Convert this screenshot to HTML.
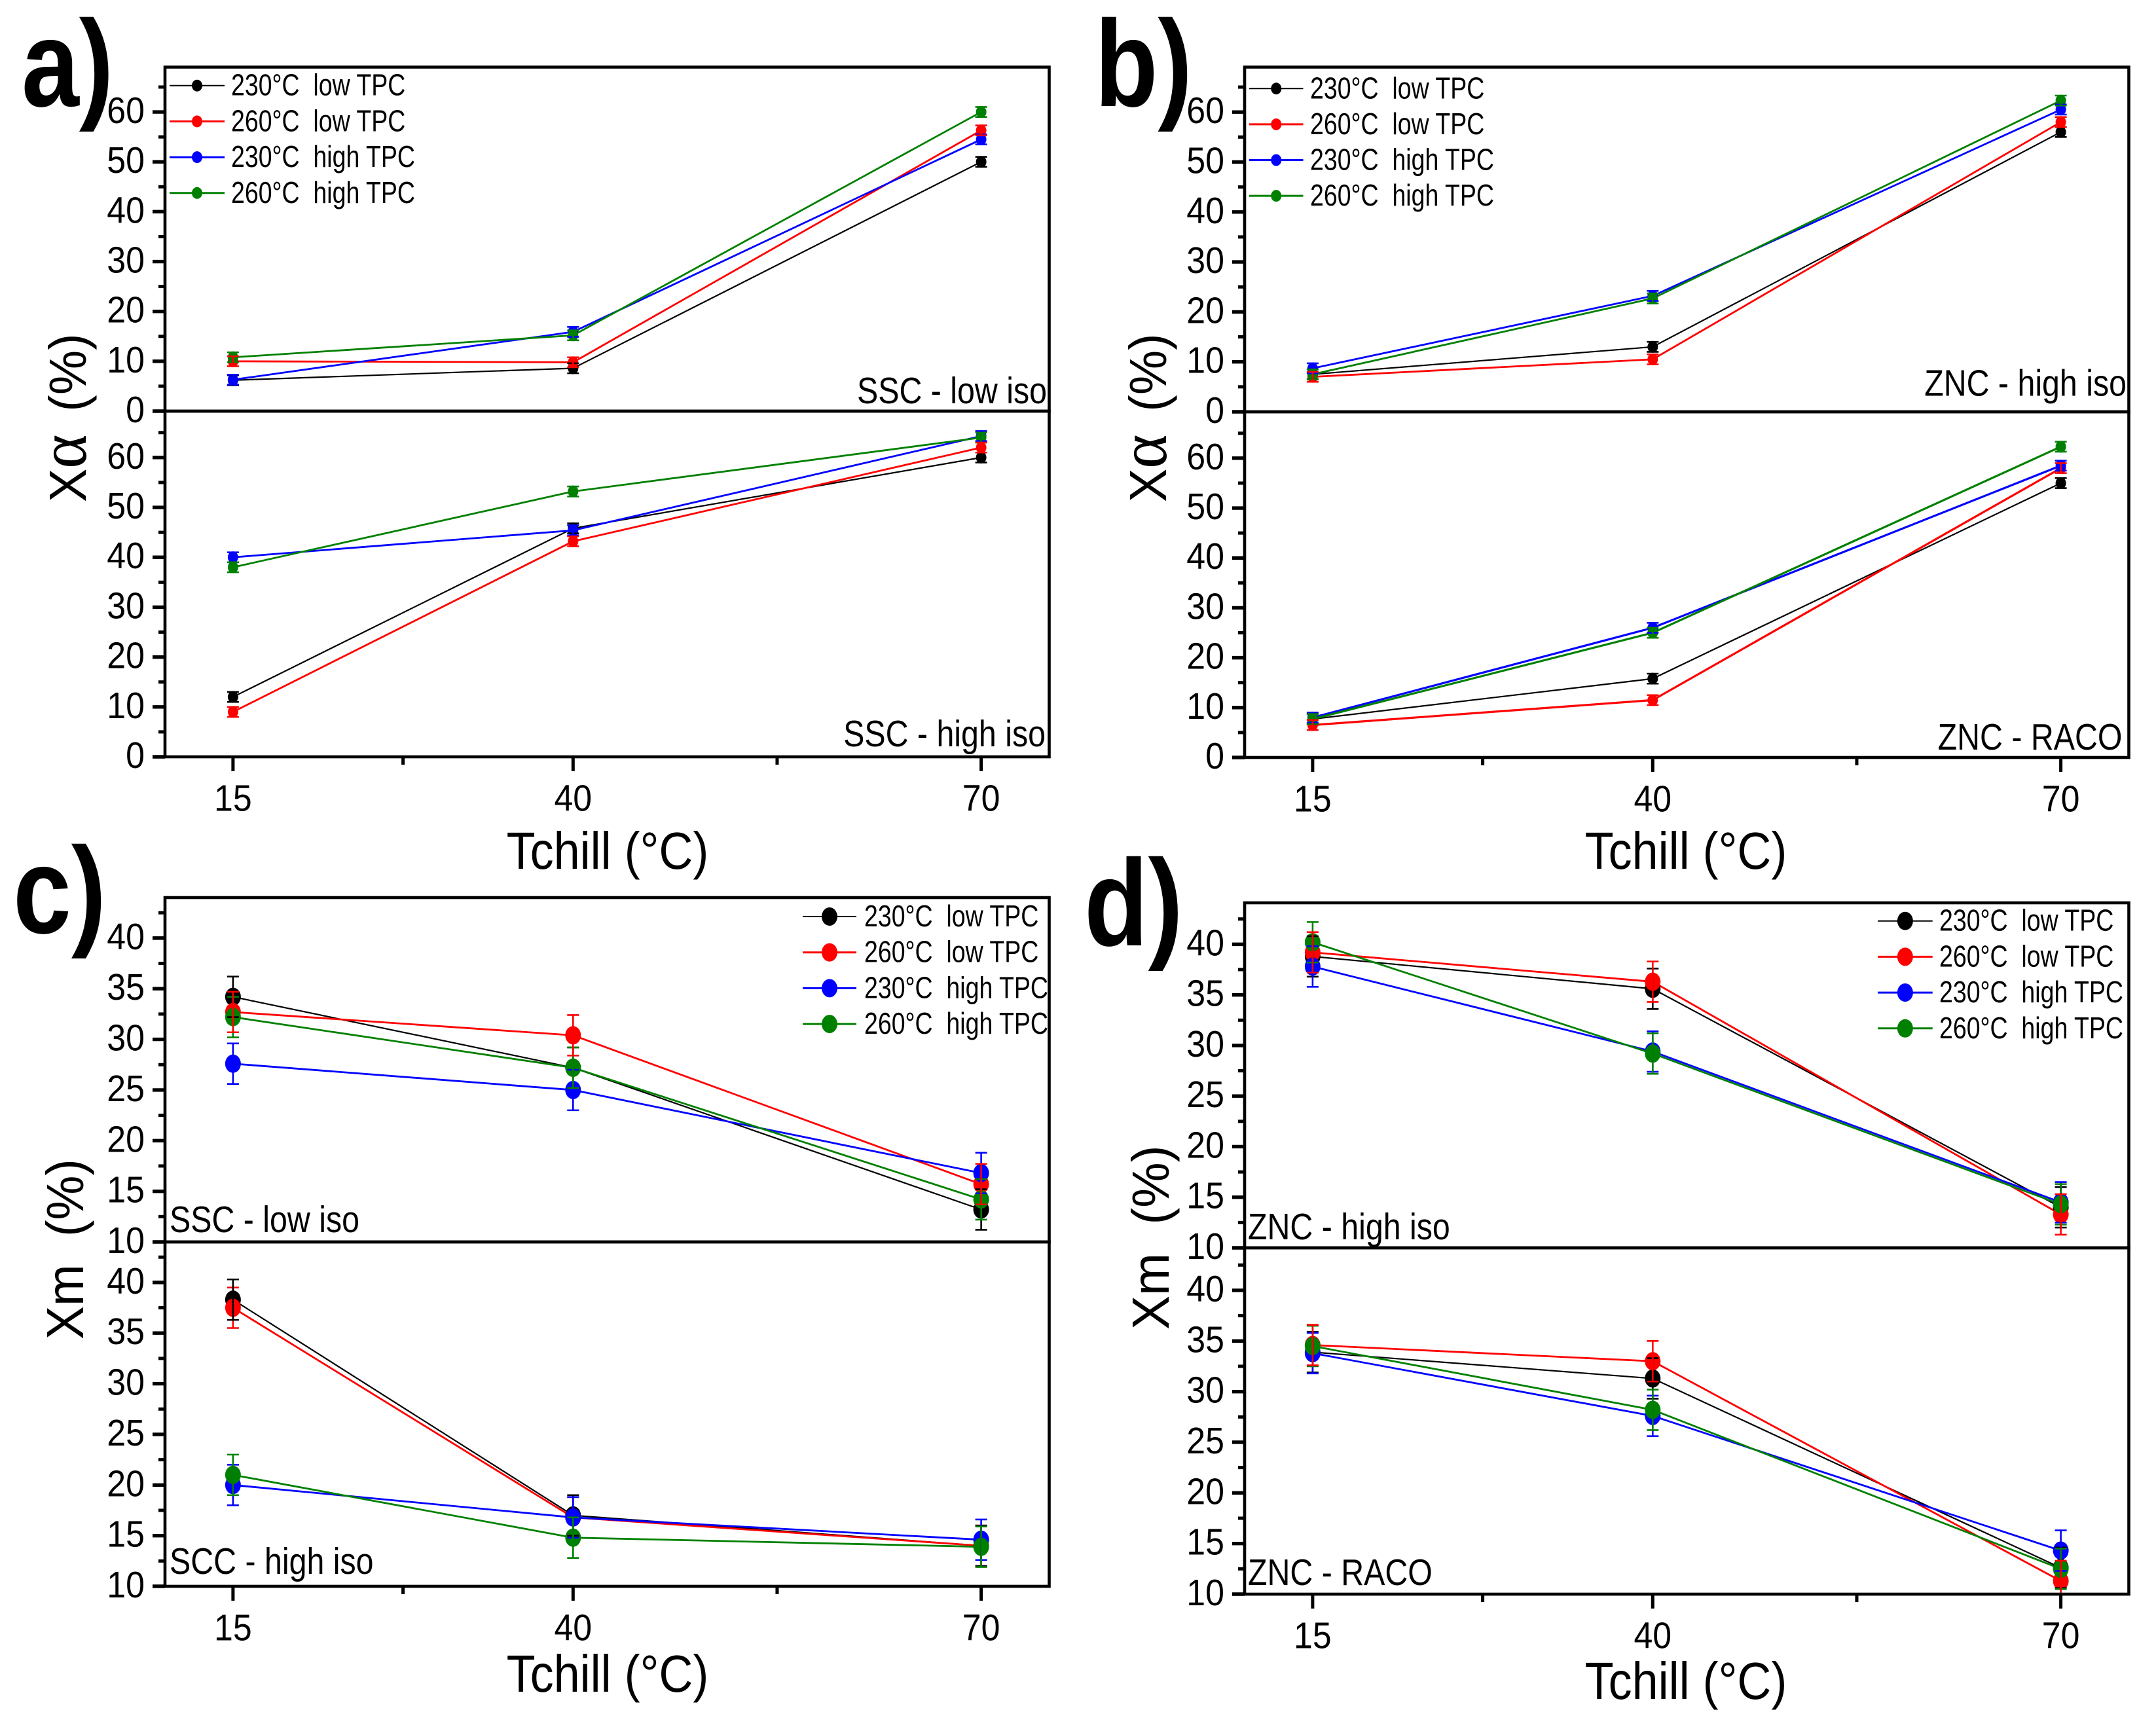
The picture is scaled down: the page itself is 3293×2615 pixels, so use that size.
<!DOCTYPE html>
<html lang="en">
<head>
<meta charset="utf-8">
<title>Crystallinity versus chill temperature</title>
<style>
  html, body { margin: 0; padding: 0; background: #fff; }
  svg { display: block; }
  text { font-family: "Liberation Sans", sans-serif; fill: #000; white-space: pre; }
  .letter { font-weight: bold; font-size: 188px; }
  .title { font-size: 80px; }
  .note { font-size: 57px; }
  .ylab { font-size: 80px; }
  .greek { font-family: "Liberation Serif", serif; font-size: 104px; }
</style>
</head>
<body>
<svg id="chart" xmlns="http://www.w3.org/2000/svg" width="3293" height="2615" viewBox="0 0 3293 2615">
  <rect x="0" y="0" width="3293" height="2615" fill="#fff"/>

  <text class="letter" transform="translate(33,162) scale(.84,1)">a)</text>
  <text class="letter" transform="translate(1672,162) scale(.84,1)">b)</text>
  <text class="letter" transform="translate(20,1425) scale(.85,1)">c)</text>
  <text class="letter" transform="translate(1656,1444) scale(.85,1)">d)</text>

  <text class="title" text-anchor="middle" transform="translate(928,1327) scale(.9,1)">Tchill (°C)</text>
  <text class="title" text-anchor="middle" transform="translate(2575,1327) scale(.9,1)">Tchill (°C)</text>
  <text class="title" text-anchor="middle" transform="translate(928,2584) scale(.9,1)">Tchill (°C)</text>
  <text class="title" text-anchor="middle" transform="translate(2575,2595) scale(.9,1)">Tchill (°C)</text>

  <text class="ylab" transform="translate(131,767) rotate(-90) scale(.96,1)">X<tspan class="greek">α</tspan><tspan dx="14"> (%)</tspan></text>
  <text class="ylab" transform="translate(1781,767) rotate(-90) scale(.96,1)">X<tspan class="greek">α</tspan><tspan dx="14"> (%)</tspan></text>
  <text class="ylab" transform="translate(127,2046) rotate(-90) scale(.955,1)">Xm  (%)</text>
  <text class="ylab" transform="translate(1785,2031) rotate(-90) scale(.975,1)">Xm  (%)</text>

  <text class="note" text-anchor="end" transform="translate(1599,616) scale(.848,1)">SSC - low iso</text>
  <text class="note" text-anchor="end" transform="translate(1597,1140) scale(.848,1)">SSC - high iso</text>
  <text class="note" text-anchor="end" transform="translate(3248,604.5) scale(.848,1)">ZNC - high iso</text>
  <text class="note" text-anchor="end" transform="translate(3241.5,1145) scale(.848,1)">ZNC - RACO</text>
  <text class="note" transform="translate(259,1882) scale(.848,1)">SSC - low iso</text>
  <text class="note" transform="translate(259,2404) scale(.848,1)">SCC - high iso</text>
  <text class="note" transform="translate(1906,1893) scale(.848,1)">ZNC - high iso</text>
  <text class="note" transform="translate(1906,2421) scale(.848,1)">ZNC - RACO</text>

  <g id="plots"></g>
</svg>

<script>
// Shared categories and tick labels
const xCategories = [15, 40, 70];
const xMinorTicks = [27.5, 55];
const alphaTicks = [0, 10, 20, 30, 40, 50, 60];
const mesoTicks = [10, 15, 20, 25, 30, 35, 40];
const seriesLabels = ['230°C  low TPC', '260°C  low TPC', '230°C  high TPC', '260°C  high TPC'];
const seriesColors = ['#000000', '#ff0000', '#0000ff', '#008000'];
const alphaError = 1;
const mesoError = 2;

// Panel a, upper: SSC - low iso
const aUpper230Low = [6.2, 8.6, 50];
const aUpper260Low = [10, 9.8, 56.3];
const aUpper230High = [6.3, 15.9, 54.5];
const aUpper260High = [10.8, 15.2, 60];
// Panel a, lower: SSC - high iso
const aLower230Low = [12, 45.8, 60];
const aLower260Low = [9, 43.2, 62];
const aLower230High = [40, 45.4, 64.3];
const aLower260High = [38, 53.2, 64];
// Panel b, upper: ZNC - high iso
const bUpper230Low = [7.5, 13, 56];
const bUpper260Low = [7, 10.5, 58];
const bUpper230High = [8.7, 23.2, 60.5];
const bUpper260High = [7.5, 22.7, 62.3];
// Panel b, lower: ZNC - RACO
const bLower230Low = [7.7, 15.8, 55];
const bLower260Low = [6.5, 11.5, 58];
const bLower230High = [8, 26, 58.5];
const bLower260High = [7.7, 25, 62.3];
// Panel c, upper: SSC - low iso
const cUpper230Low = [34.2, 27.2, 13.2];
const cUpper260Low = [32.7, 30.4, 15.7];
const cUpper230High = [27.6, 25, 16.8];
const cUpper260High = [32.2, 27.2, 14.2];
// Panel c, lower: SCC - high iso
const cLower230Low = [38.3, 17, 14];
const cLower260Low = [37.5, 16.8, 14];
const cLower230High = [20, 16.8, 14.6];
const cLower260High = [21, 14.8, 13.9];
// Panel d, upper: ZNC - high iso
const dUpper230Low = [38.8, 35.6, 14];
const dUpper260Low = [39.2, 36.3, 13.3];
const dUpper230High = [37.8, 29.4, 14.5];
const dUpper260High = [40.2, 29.2, 14.3];
// Panel d, lower: ZNC - RACO
const dLower230Low = [33.9, 31.3, 12.6];
const dLower260Low = [34.6, 33, 11.3];
const dLower230High = [33.8, 27.6, 14.3];
const dLower260High = [34.5, 28.2, 12.5];

const NS = 'http://www.w3.org/2000/svg';
const plots = document.getElementById('plots');

function node(tag, parent, attrs) {
  const el = document.createElementNS(NS, tag);
  for (const k in attrs) el.setAttribute(k, attrs[k]);
  parent.appendChild(el);
  return el;
}

function drawSubplot(p) {
  const group = node('g', plots, {});
  
  

  const xScale = v => p.left + (v - 10) / 65 * (p.right - p.left);
  const yScale = v => p.bottom - (v - p.yMin) / (p.yMax - p.yMin) * (p.bottom - p.top);

  // series lines
  p.series.forEach((values, s) => {
    const pts = values.map((v, i) => xScale(xCategories[i]) + ',' + yScale(v)).join(' ');
    const el = node('polyline', group, { points: pts, fill: 'none', stroke: seriesColors[s], 'stroke-width': s === 0 ? 2.2 : p.lineWidth });
    
    
  });

  // markers
  p.series.forEach((values, s) => {
    values.forEach((v, i) => {
      const el = node('ellipse', group, { cx: xScale(xCategories[i]), cy: yScale(v), rx: p.rx, ry: p.ry, fill: seriesColors[s] });
      
      
    });
  });

  // error bars, clipped at the axes like the plot area
  (p.errOrder || [0, 2, 3, 1]).forEach(s => {
    p.series[s].forEach((v, i) => {
      const cx = xScale(xCategories[i]);
      const hi = yScale(v + p.err);
      const lo = yScale(v - p.err);
      let d = 'M' + cx + ' ' + hi + 'V' + Math.min(lo, p.bottom) + 'M' + (cx - 9) + ' ' + hi + 'H' + (cx + 9);
      if (lo < p.bottom) d += 'M' + (cx - 9) + ' ' + lo + 'H' + (cx + 9);
      const el = node('path', group, { d: d, fill: 'none', stroke: seriesColors[s], 'stroke-width': 2.6 });
      
      
    });
  });

  // frame
  const frame = node('rect', group, { x: p.left, y: p.top, width: p.right - p.left, height: p.bottom - p.top, fill: 'none', stroke: '#000', 'stroke-width': 4.6 });
  
  

  // y ticks
  const step = p.ticks[1] - p.ticks[0];
  p.ticks.forEach(t => {
    const y = yScale(t);
    const tick = node('line', group, { x1: p.left - 19, x2: p.left, y1: y, y2: y, stroke: '#000', 'stroke-width': 5.4 });
    
    
    const label = node('text', group, { 'text-anchor': 'end', 'font-size': 57, transform: 'translate(' + (p.left - 31) + ',' + (y + 17) + ') scale(.91,1)' });
    label.textContent = String(t);
    
    
    if (t + step / 2 <= p.yMax) {
      const my = yScale(t + step / 2);
      const minor = node('line', group, { x1: p.left - 10, x2: p.left, y1: my, y2: my, stroke: '#000', 'stroke-width': 5 });
      
      
    }
  });

  // x ticks on the bottom subplot
  if (p.showX) {
    xCategories.forEach(c => {
      const x = xScale(c);
      const tick = node('line', group, { x1: x, x2: x, y1: p.bottom, y2: p.bottom + 22, stroke: '#000', 'stroke-width': 5 });
      
      
      const label = node('text', group, { 'text-anchor': 'middle', 'font-size': 57, transform: 'translate(' + x + ',' + (p.bottom + 82.5) + ') scale(.91,1)' });
      label.textContent = String(c);
      
      
    });
    xMinorTicks.forEach(c => {
      const x = xScale(c);
      const minor = node('line', group, { x1: x, x2: x, y1: p.bottom, y2: p.bottom + 12, stroke: '#000', 'stroke-width': 5 });
      
      
    });
  }
}

function drawLegend(l) {
  const group = node('g', plots, {});
  
  
  seriesLabels.forEach((text, s) => {
    const y = l.y + s * l.dy;
    const swatch = node('line', group, { x1: l.x1, x2: l.x2, y1: y, y2: y, stroke: seriesColors[s], 'stroke-width': s === 0 ? 2 : 3 });
    
    
    const dot = node('ellipse', group, { cx: (l.x1 + l.x2) / 2, cy: y, rx: l.rx, ry: l.ry, fill: seriesColors[s] });
    
    
    const label = node('text', group, { 'font-size': 46, transform: 'translate(' + l.tx + ',' + (y + 15) + ') scale(.815,1)' });
    label.textContent = text;
    
    
  });
}

drawSubplot({ name: 'panel-a-upper', left: 252, right: 1602.5, top: 102.5, bottom: 628, yMin: 0, yMax: 69, ticks: alphaTicks, err: alphaError, rx: 8, ry: 9, lineWidth: 2.8, showX: false,
  series: [aUpper230Low, aUpper260Low, aUpper230High, aUpper260High] });
drawSubplot({ name: 'panel-a-lower', left: 252, right: 1602.5, top: 628, bottom: 1156, yMin: 0, yMax: 69.3, ticks: alphaTicks, err: alphaError, rx: 8, ry: 9, lineWidth: 2.8, showX: true,
  series: [aLower230Low, aLower260Low, aLower230High, aLower260High] });
drawSubplot({ name: 'panel-b-upper', left: 1901, right: 3251.5, top: 102.5, bottom: 629, yMin: 0, yMax: 69, ticks: alphaTicks, err: alphaError, rx: 8, ry: 9, lineWidth: 2.8, showX: false,
  series: [bUpper230Low, bUpper260Low, bUpper230High, bUpper260High] });
drawSubplot({ name: 'panel-b-lower', left: 1901, right: 3251.5, top: 629, bottom: 1157, yMin: 0, yMax: 69.3, ticks: alphaTicks, err: alphaError, rx: 8, ry: 9, lineWidth: 3.2, showX: true,
  series: [bLower230Low, bLower260Low, bLower230High, bLower260High] });
drawSubplot({ name: 'panel-c-upper', left: 252, right: 1602.5, top: 1371, bottom: 1897, yMin: 10, yMax: 44, ticks: mesoTicks, err: mesoError, rx: 12, ry: 14, lineWidth: 2.8, showX: false,
  series: [cUpper230Low, cUpper260Low, cUpper230High, cUpper260High] });
drawSubplot({ name: 'panel-c-lower', left: 252, right: 1602.5, top: 1897, bottom: 2423, yMin: 10, yMax: 44, ticks: mesoTicks, err: mesoError, errOrder: [1, 0, 2, 3], rx: 12, ry: 14, lineWidth: 2.8, showX: true,
  series: [cLower230Low, cLower260Low, cLower230High, cLower260High] });
drawSubplot({ name: 'panel-d-upper', left: 1901, right: 3251.5, top: 1379, bottom: 1906, yMin: 10, yMax: 44.1, ticks: mesoTicks, err: mesoError, rx: 12, ry: 14, lineWidth: 2.8, showX: false,
  series: [dUpper230Low, dUpper260Low, dUpper230High, dUpper260High] });
drawSubplot({ name: 'panel-d-lower', left: 1901, right: 3251.5, top: 1906, bottom: 2435, yMin: 10, yMax: 44.2, ticks: mesoTicks, err: mesoError, rx: 12, ry: 14, lineWidth: 2.8, showX: true,
  series: [dLower230Low, dLower260Low, dLower230High, dLower260High] });

drawLegend({ x1: 259, x2: 343, tx: 353, y: 130.7, dy: 54.7, rx: 8, ry: 9 });
drawLegend({ x1: 1908, x2: 1990.5, tx: 2001, y: 135.3, dy: 54.6, rx: 8, ry: 9 });
drawLegend({ x1: 1226, x2: 1308, tx: 1320, y: 1400, dy: 54.7, rx: 12, ry: 14 });
drawLegend({ x1: 2868, x2: 2951.7, tx: 2962, y: 1406.7, dy: 54.7, rx: 12, ry: 14 });
</script>
</body>
</html>
